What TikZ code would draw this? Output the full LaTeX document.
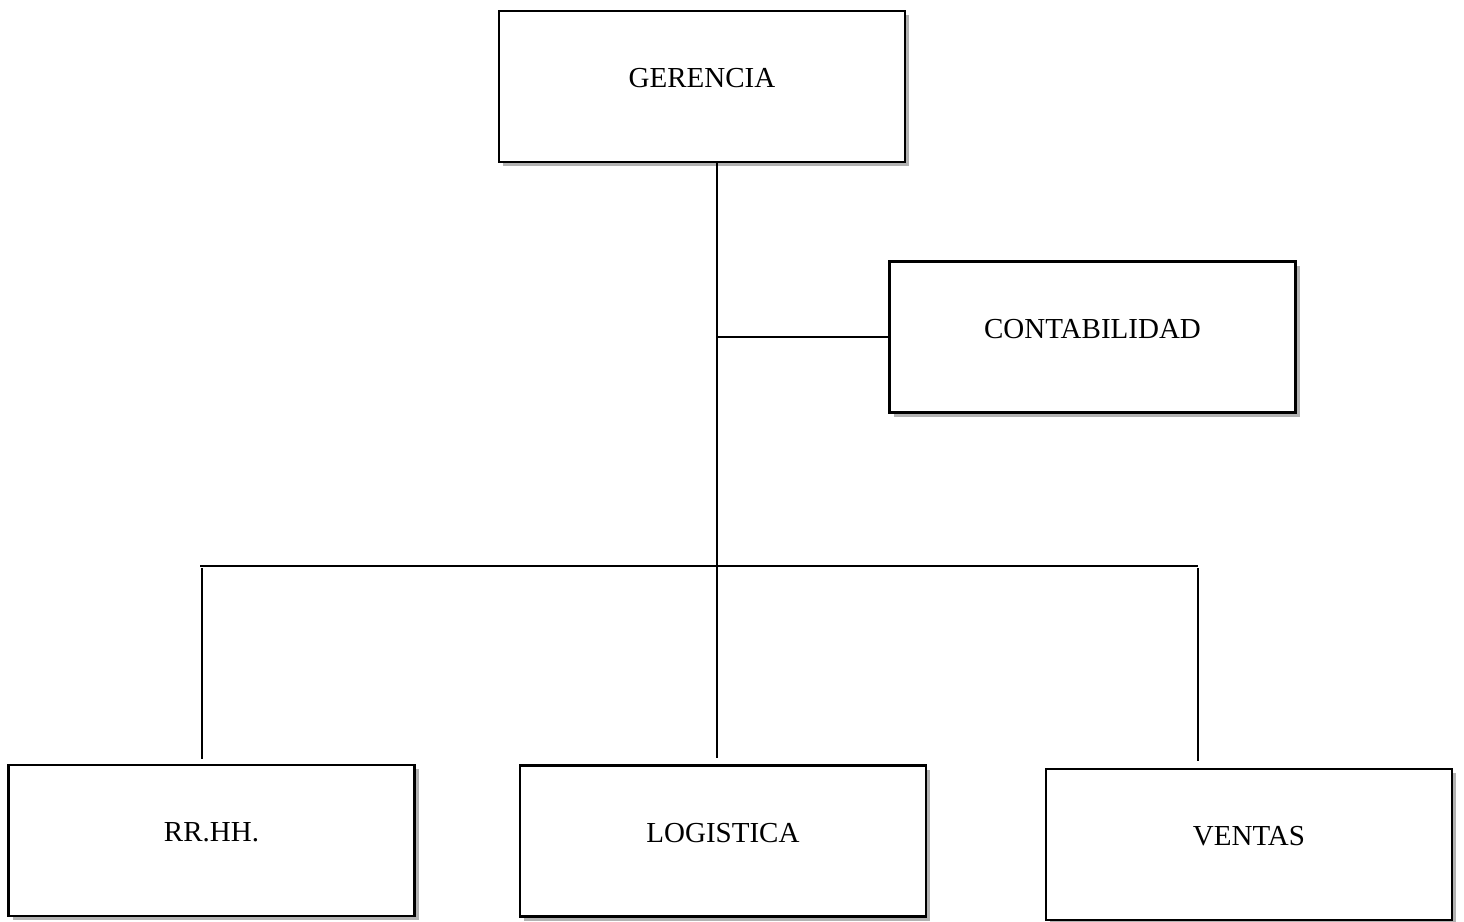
\documentclass[tikz,border=0pt]{standalone}
\usepackage{fontspec}
\setmainfont{Liberation Serif}
\usetikzlibrary{shadows}
\begin{document}
\begin{tikzpicture}[x=1pt,y=-1pt,
  unitbox/.style={draw=black, line width=2.8pt, fill=white, rectangle,
    minimum width=406pt, minimum height=151pt, inner sep=0pt,
    text height=20pt, text depth=18pt,
    font=\fontsize{29}{34}\selectfont,
    drop shadow={opacity=0.6, shadow xshift=4pt, shadow yshift=-4pt}},
  link/.style={draw=black, line width=1.3pt}]
\useasboundingbox (0,0) rectangle (1464,921);
\fill[white] (0,0) rectangle (1464,921);
\node[unitbox] (ger) at (702,86.5) {GERENCIA};
\node[unitbox] (cont) at (1092.5,337) {CONTABILIDAD};
\node[unitbox] (rr) at (211.5,840.5) {RR.HH.};
\node[unitbox] (log) at (723,841) {LOGISTICA};
\node[unitbox] (ven) at (1249,844.5) {VENTAS};
\coordinate (t) at (717,163);
\coordinate (bl) at (200,566);
\coordinate (br) at (1198,566);
\coordinate (dl) at (202,568);
\coordinate (dr) at (1198,568);
\draw[link, shorten >=6pt] (t) -- (t |- log.north);
\draw[link] (t |- cont.west) -- (cont.west);
\draw[link] (bl) -- (br);
\draw[link, shorten >=5pt] (dl) -- (dl |- rr.north);
\draw[link, shorten >=7pt] (dr) -- (dr |- ven.north);
\end{tikzpicture}
\end{document}
